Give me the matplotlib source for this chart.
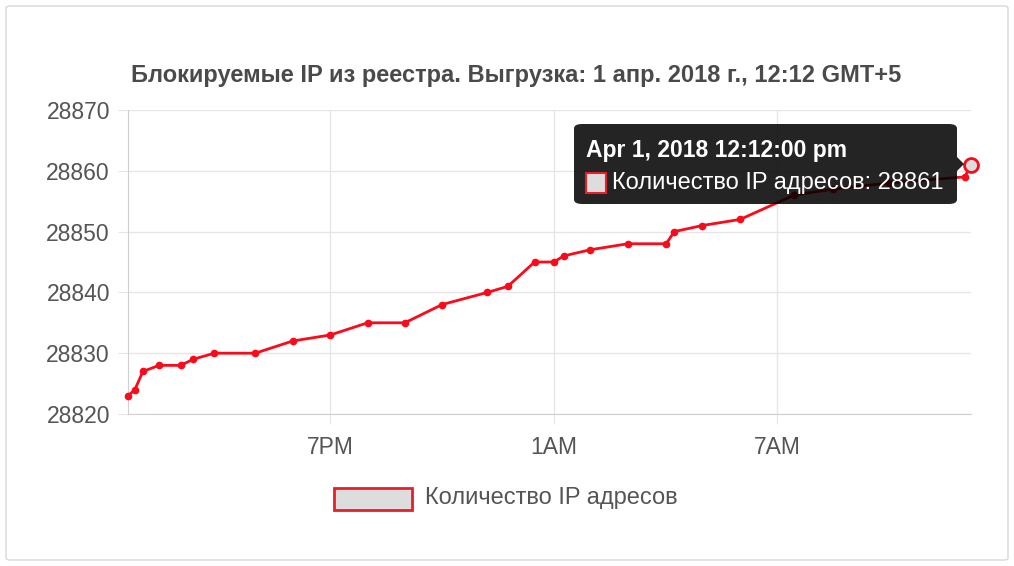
import datetime as dt
import matplotlib
matplotlib.use("Agg")
import matplotlib.pyplot as plt
import matplotlib.dates as mdates
from matplotlib.patches import FancyBboxPatch, Rectangle, Polygon

plt.rcParams['font.family'] = ['Liberation Sans', 'DejaVu Sans']

# times (Mar 31 -> Apr 1, 2018) and counts
times = ["2018-03-31 13:34", "2018-03-31 13:45", "2018-03-31 13:58", "2018-03-31 14:24",
         "2018-03-31 14:59", "2018-03-31 15:19", "2018-03-31 15:53", "2018-03-31 16:59",
         "2018-03-31 17:59", "2018-03-31 19:00", "2018-03-31 20:00", "2018-03-31 21:00",
         "2018-03-31 22:00", "2018-03-31 23:13", "2018-03-31 23:46", "2018-04-01 00:29",
         "2018-04-01 01:00", "2018-04-01 01:16", "2018-04-01 01:58", "2018-04-01 02:59",
         "2018-04-01 04:01", "2018-04-01 04:14", "2018-04-01 04:59", "2018-04-01 06:00",
         "2018-04-01 07:27", "2018-04-01 08:30", "2018-04-01 10:00", "2018-04-01 12:02",
         "2018-04-01 12:12"]
counts = [28823, 28824, 28827, 28828, 28828, 28829, 28830, 28830, 28832, 28833,
          28835, 28835, 28838, 28840, 28841, 28845, 28845, 28846, 28847, 28848,
          28848, 28850, 28851, 28852, 28856, 28857, 28858, 28859, 28861]
y_ticks = [28820, 28830, 28840, 28850, 28860, 28870]
x_ticks = ["2018-03-31 19:00", "2018-04-01 01:00", "2018-04-01 07:00"]

title = "Блокируемые IP из реестра. Выгрузка: 1 апр. 2018 г., 12:12 GMT+5"
series_name = "Количество IP адресов"
tip_title = "Apr 1, 2018 12:12:00 pm"

t = [dt.datetime.strptime(s, "%Y-%m-%d %H:%M") for s in times]
xt = [dt.datetime.strptime(s, "%Y-%m-%d %H:%M") for s in x_ticks]

W, H = 1014, 566
fig = plt.figure(figsize=(W / 100, H / 100), dpi=100)

# card background
card = FancyBboxPatch((6 / W, 6 / H), 1002 / W, 554 / H, boxstyle="round,pad=0,rounding_size=0.004",
                      transform=fig.transFigure, facecolor="white", edgecolor="#d8d8d8", lw=1, zorder=-10)
fig.patches.append(card)

ax = fig.add_axes([128 / W, 1 - 414 / H, (971 - 128) / W, (414 - 110) / H])
ax.set_facecolor("none")
ax.plot(t, counts, color="#fa0a1a", lw=2, marker="o", ms=4.5, zorder=3, clip_on=False)
ax.plot(t[-1], counts[-1], marker="o", ms=10, mfc="#dddddd", mec="#fa0a1a", mew=2, zorder=4, clip_on=False)

ax.set_xlim(t[0], t[-1])
ax.set_ylim(28820, 28870)
ax.set_yticks(y_ticks)
ax.set_xticks(xt)
ax.xaxis.set_major_formatter(plt.FuncFormatter(
    lambda v, p: mdates.num2date(v).strftime("%I%p").lstrip("0")))
ax.grid(True, color="#e6e6e6", lw=1)
for s in ["top", "right"]:
    ax.spines[s].set_visible(False)
for s in ["left", "bottom"]:
    ax.spines[s].set_color("#d0d0d0")
ax.tick_params(length=7, color="#e6e6e6", labelsize=16.5, labelcolor="#555555")
ax.tick_params(axis="y", pad=6)
ax.tick_params(axis="x", pad=9)

fig.text(516 / W, 1 - 75 / H, title, ha="center", va="center", fontsize=17,
         fontweight="bold", color="#4a4a4a")

# legend
fig.patches.append(Rectangle((334 / W, 1 - 510 / H), 78 / W, 22 / H, transform=fig.transFigure,
                             facecolor="#dddddd", edgecolor="#e5202a", lw=2))
fig.text(425 / W, 1 - 498 / H, series_name, ha="left", va="center", fontsize=17, color="#555555")

# tooltip
fig.patches.append(FancyBboxPatch((574 / W, 1 - 204 / H), 383 / W, 80 / H,
                                  boxstyle="round,pad=0,rounding_size=0.008", transform=fig.transFigure,
                                  facecolor="#000000", edgecolor="none", alpha=0.86, zorder=5))
fig.patches.append(Polygon([(957 / W, 1 - 157 / H), (964 / W, 1 - 164 / H), (957 / W, 1 - 171 / H)],
                           closed=True, transform=fig.transFigure, facecolor="#000000",
                           edgecolor="none", alpha=0.86, zorder=5))
fig.text(586 / W, 1 - 151 / H, tip_title, ha="left", va="center", fontsize=16.5,
         fontweight="bold", color="white", zorder=6)
fig.patches.append(Rectangle((586 / W, 1 - 193 / H), 20 / W, 20 / H, transform=fig.transFigure,
                             facecolor="#dddddd", edgecolor="#e5202a", lw=1.5, zorder=6))
fig.text(612 / W, 1 - 183 / H, f"{series_name}: {counts[-1]}", ha="left", va="center",
         fontsize=17, color="white", zorder=6)

fig.savefig("out.png", dpi=100)
